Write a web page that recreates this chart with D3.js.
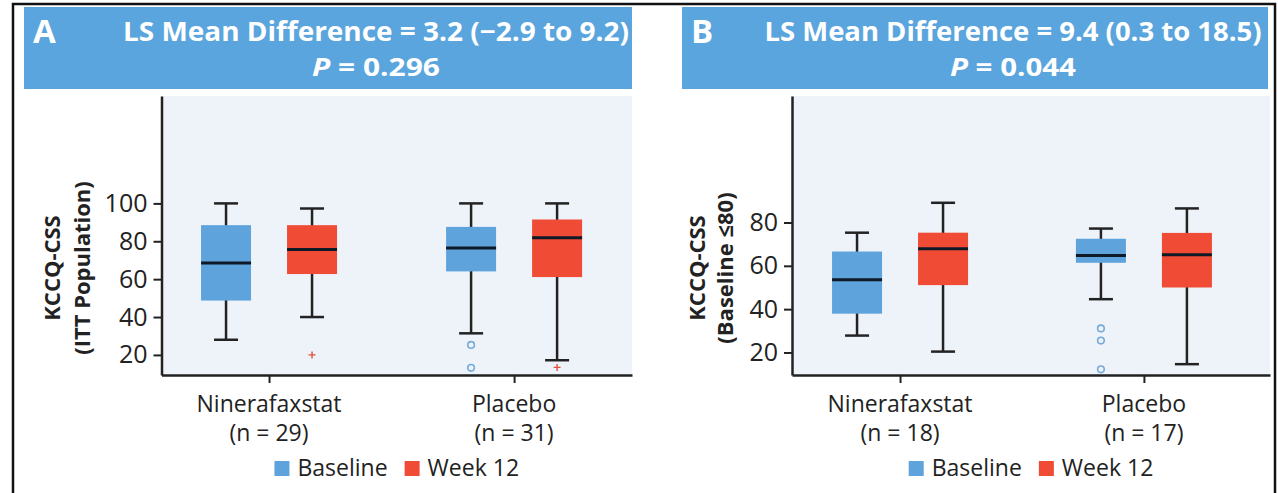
<!DOCTYPE html>
<html>
<head>
<meta charset="utf-8">
<script src="https://cdn.jsdelivr.net/npm/d3@7"></script>
<style>
  html, body { margin: 0; padding: 0; background: #fff; }
  svg { display: block; font-family: "Open Sans", "Noto Sans", sans-serif; }
</style>
</head>
<body>
<svg id="chart" width="1278" height="493"></svg>
<script>
// ---- data -------------------------------------------------------------
const groups = ["Ninerafaxstat", "Placebo"];
const series = ["Baseline", "Week 12"];

const nLabelsA = ["(n = 29)", "(n = 31)"];
const nLabelsB = ["(n = 18)", "(n = 17)"];

const ticksA = [20, 40, 60, 80, 100];
const ticksB = [20, 40, 60, 80];

// five-number summaries (whisker low, Q1, median, Q3, whisker high) and outliers
const boxesA = [
  { group: "Ninerafaxstat", series: "Baseline", lo: 28,   q1: 48.7, med: 68.5, q3: 88.5, hi: 100,  out: [] },
  { group: "Ninerafaxstat", series: "Week 12",  lo: 40,   q1: 62.7, med: 75.6, q3: 88.5, hi: 97.3, out: [20] },
  { group: "Placebo",       series: "Baseline", lo: 31.4, q1: 64.1, med: 76.5, q3: 87.6, hi: 100,  out: [25.3, 13.2] },
  { group: "Placebo",       series: "Week 12",  lo: 17.2, q1: 61.1, med: 81.8, q3: 91.5, hi: 100,  out: [13.4] }
];
const boxesB = [
  { group: "Ninerafaxstat", series: "Baseline", lo: 27.8, q1: 37.9, med: 53.6, q3: 66.6, hi: 75.3, out: [] },
  { group: "Ninerafaxstat", series: "Week 12",  lo: 20.4, q1: 51.1, med: 67.9, q3: 75.3, hi: 89.1, out: [] },
  { group: "Placebo",       series: "Baseline", lo: 44.6, q1: 61.4, med: 64.8, q3: 72.5, hi: 77.2, out: [31.1, 25.5, 12.2] },
  { group: "Placebo",       series: "Week 12",  lo: 14.6, q1: 50.0, med: 65.1, q3: 75.2, hi: 86.5, out: [] }
];

const headerA = ["LS Mean Difference = 3.2 (\u22122.9 to 9.2)", "0.296"];
const headerB = ["LS Mean Difference = 9.4 (0.3 to 18.5)", "0.044"];
const yTitleA = ["KCCQ-CSS", "(ITT Population)"];
const yTitleB = ["KCCQ-CSS", "(Baseline \u226480)"];

// ---- styling ----------------------------------------------------------
const colors = { "Baseline": "#5ea3dc", "Week 12": "#f04b35" };
const outlierColors = { "Baseline": "#78aad8", "Week 12": "#e5503c" };
const headerBlue = "#5aa5dd";
const plotBg = "#eef3fa";
const ink = "#222";

const svg = d3.select("#chart");

// outer frame (left, top, right)
svg.append("path")
  .attr("d", "M13,493 V4 H1275 V493")
  .attr("fill", "none")
  .attr("stroke", "#111")
  .attr("stroke-width", 2.5);

const panels = [
  { letter: "A", header: headerA, yTitle: yTitleA, boxes: boxesA, ticks: ticksA, nLabels: nLabelsA,
    headerX0: 24, headerX1: 632, titleCx: 376, titleLen: 506, pLen: 128,
    axisX: 161.5, plotRight: 632, pad: 0.46, align: 0.477,
    yDomain: [9.4, 156.7], yTitleX: [52, 82] },
  { letter: "B", header: headerB, yTitle: yTitleB, boxes: boxesB, ticks: ticksB, nLabels: nLabelsB,
    headerX0: 682, headerX1: 1268, titleCx: 1013, titleLen: 497, pLen: 126,
    axisX: 792, plotRight: 1270, pad: 0.48, align: 0.4615,
    yDomain: [9.6, 138.4], yTitleX: [697, 725] }
];

const plotTop = 96, plotBottom = 375;

panels.forEach(p => {
  const g = svg.append("g");

  // header band
  g.append("rect")
    .attr("x", p.headerX0).attr("y", 7)
    .attr("width", p.headerX1 - p.headerX0).attr("height", 82)
    .attr("fill", headerBlue);

  g.append("text")
    .attr("x", p.headerX0 + 9).attr("y", 43)
    .attr("fill", "#fff").attr("font-weight", 700).attr("font-size", 33)
    .text(p.letter);

  g.append("text")
    .attr("x", p.titleCx).attr("y", 41)
    .attr("text-anchor", "middle")
    .attr("fill", "#fff").attr("font-weight", 700).attr("font-size", 26)
    .attr("textLength", p.titleLen).attr("lengthAdjust", "spacingAndGlyphs")
    .text(p.header[0]);

  const pl = g.append("text")
    .attr("x", p.titleCx).attr("y", 76)
    .attr("text-anchor", "middle")
    .attr("fill", "#fff").attr("font-weight", 700).attr("font-size", 25)
    .attr("textLength", p.pLen).attr("lengthAdjust", "spacingAndGlyphs");
  pl.append("tspan").attr("font-style", "italic").text("P");
  pl.append("tspan").text(" = " + p.header[1]);

  // scales
  const x = d3.scalePoint().domain(groups)
    .range([p.axisX, p.plotRight]).padding(p.pad).align(p.align);
  const xs = d3.scalePoint().domain(series).range([-43, 43]);
  const y = d3.scaleLinear().domain(p.yDomain).range([plotBottom, plotTop]);

  // plot background
  g.append("rect")
    .attr("x", p.axisX).attr("y", plotTop)
    .attr("width", p.plotRight - p.axisX).attr("height", plotBottom - plotTop)
    .attr("fill", plotBg);

  // boxes
  const boxW = 50, capW = 24;
  const bx = g.selectAll("g.box").data(p.boxes).join("g")
    .attr("class", "box")
    .attr("transform", d => `translate(${x(d.group) + xs(d.series)},0)`);

  bx.append("line")
    .attr("x1", 0).attr("x2", 0)
    .attr("y1", d => y(d.hi)).attr("y2", d => y(d.lo))
    .attr("stroke", ink).attr("stroke-width", 2.5);

  bx.selectAll("line.cap").data(d => [d.hi, d.lo]).join("line")
    .attr("class", "cap")
    .attr("x1", -capW / 2).attr("x2", capW / 2)
    .attr("y1", v => y(v)).attr("y2", v => y(v))
    .attr("stroke", ink).attr("stroke-width", 2.5);

  bx.append("rect")
    .attr("x", -boxW / 2).attr("width", boxW)
    .attr("y", d => y(d.q3)).attr("height", d => y(d.q1) - y(d.q3))
    .attr("fill", d => colors[d.series]);

  bx.append("line")
    .attr("x1", -boxW / 2).attr("x2", boxW / 2)
    .attr("y1", d => y(d.med)).attr("y2", d => y(d.med))
    .attr("stroke", "#0f1a28").attr("stroke-width", 3);

  // outliers: circles for baseline, crosses for week 12
  bx.each(function (d) {
    const sel = d3.select(this);
    d.out.forEach(v => {
      if (d.series === "Baseline") {
        sel.append("circle")
          .attr("cx", 0).attr("cy", y(v)).attr("r", 3.3)
          .attr("fill", "none")
          .attr("stroke", outlierColors[d.series]).attr("stroke-width", 1.6);
      } else {
        sel.append("path")
          .attr("d", `M-3.5,${y(v)} h7 M0,${y(v) - 3.5} v7`)
          .attr("stroke", outlierColors[d.series]).attr("stroke-width", 1.4);
      }
    });
  });

  // y axis
  const yAxis = g.append("g")
    .attr("transform", `translate(${p.axisX},0)`)
    .call(d3.axisLeft(y).tickValues(p.ticks).tickSize(8).tickSizeOuter(0).tickPadding(6));
  yAxis.select(".domain").attr("stroke", ink).attr("stroke-width", 2.5);
  yAxis.selectAll(".tick line").attr("stroke", ink).attr("stroke-width", 2);
  yAxis.selectAll(".tick text")
    .attr("fill", ink).attr("font-size", 25)
    .attr("font-family", "'Open Sans', sans-serif");

  // x axis
  const xAxis = g.append("g")
    .attr("transform", `translate(0,${plotBottom})`)
    .call(d3.axisBottom(x).tickSize(8).tickSizeOuter(0).tickFormat(""));
  xAxis.select(".domain").attr("stroke", ink).attr("stroke-width", 2.5);
  xAxis.selectAll(".tick line").attr("stroke", ink).attr("stroke-width", 2);

  // category labels
  const cl = g.selectAll("text.cat").data(groups).join("text")
    .attr("class", "cat")
    .attr("x", d => x(d))
    .attr("text-anchor", "middle")
    .attr("fill", ink).attr("font-size", 23);
  cl.append("tspan").attr("x", d => x(d)).attr("y", 412).text(d => d);
  cl.append("tspan").attr("x", d => x(d)).attr("y", 441).text((d, i) => p.nLabels[i]);

  // y-axis title (two rotated lines)
  const yMid = 268;
  p.yTitle.forEach((t, i) => {
    g.append("text")
      .attr("transform", `translate(${p.yTitleX[i] + 8},${yMid}) rotate(-90)`)
      .attr("text-anchor", "middle")
      .attr("fill", ink).attr("font-weight", 700).attr("font-size", 22)
      .text(t);
  });

  // legend, centred under the plot
  const legend = g.append("g");
  const items = legend.selectAll("g").data(series).join("g");
  items.append("rect")
    .attr("width", 15).attr("height", 15).attr("y", -15)
    .attr("fill", d => colors[d]);
  items.append("text")
    .attr("x", 23).attr("y", 0)
    .attr("fill", ink).attr("font-size", 23)
    .text(d => d);
  let off = 0;
  items.each(function () {
    d3.select(this).attr("transform", `translate(${off},0)`);
    off += this.getBBox().width + 17;
  });
  const legendW = off - 17;
  const cx = (p.axisX + p.plotRight) / 2;
  legend.attr("transform", `translate(${cx - legendW / 2},476)`);
});
</script>
</body>
</html>
